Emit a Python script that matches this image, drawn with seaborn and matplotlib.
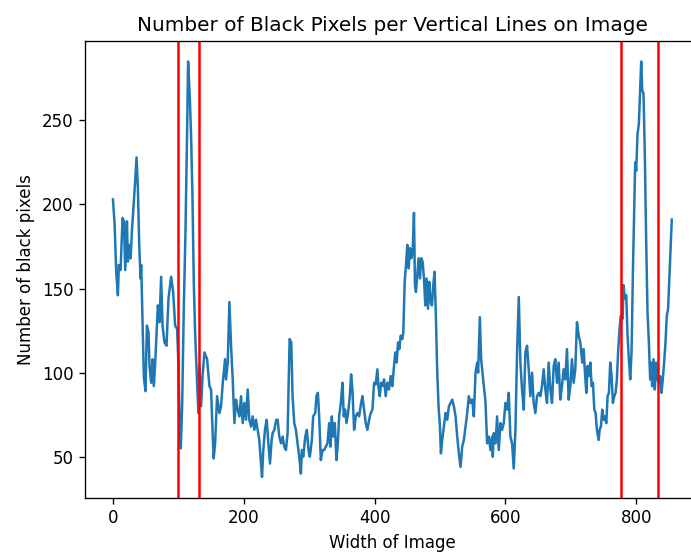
import matplotlib
matplotlib.use("Agg")
import matplotlib.pyplot as plt
import seaborn as sns
import pandas as pd

# column index across the image (x) and count of black pixels in that column (y)
width_pos = [
    0, 2.5, 5, 7.6, 9, 11.7, 14.7, 16.8, 18.8, 21.4, 22.9, 24.9, 27, 29, 33, 36.1, 38.1, 40.2, 42.2, 43.2,
    44.7, 47.3, 49.8, 51.9, 54.4, 55.9, 58.5, 60.5, 62.5, 64.6, 68.7, 71.2, 73.7, 75.8, 78.8, 81.9, 84.9, 89, 92, 95.1,
    98.1, 100.2, 102.2, 103.7, 105.8, 108.3, 110.9, 113.4, 114.9, 117.5, 119.5, 121.5, 123.6, 125.6, 127.1, 129.2, 130.7, 132.2, 134.8, 137,
    139.9, 142, 144, 147.5, 150, 152.6, 154, 156.2, 159.2, 162.8, 165.3, 167.9, 171.4, 172.9, 175.5, 178, 180.6, 183.1, 185.7, 188.2,
    190.7, 193.3, 195.8, 198.4, 200.9, 203.5, 206, 208.5, 211.1, 213.6, 216.2, 218.7, 221.2, 223.8, 226.3, 227.9, 229.9, 232.4, 235, 238,
    240.1, 242.6, 244.1, 246.7, 249.7, 251.8, 254.3, 256.9, 259.4, 261.9, 264.5, 267, 270.1, 272.6, 274.6, 277.2, 279.7, 282.2, 284.8, 287.3,
    288.9, 290.9, 294, 296.5, 299, 301, 304.1, 306.1, 309.2, 311.2, 313.3, 315.3, 317.8, 320.4, 322.9, 325.5, 328, 330.6, 332.6, 334.6,
    336.7, 339.2, 341.7, 343.8, 345.8, 348.4, 350.9, 352.9, 355, 357, 359.5, 362.1, 364.1, 366.1, 368.7, 371.2, 373.8, 376.3, 379.4, 381.4,
    384, 386.5, 389, 391.6, 394.1, 396.7, 399.2, 401.7, 404.3, 405.8, 407.9, 409.9, 411.9, 414.5, 417, 419.5, 422.1, 424.6, 427.1, 429.7,
    431.7, 433.8, 435.8, 437.8, 439.9, 442.4, 443.9, 446, 448, 450, 452.1, 454.1, 456.1, 458.2, 460.2, 461.7, 463.2, 465.3, 467.3, 469.4,
    471.4, 473.4, 475.5, 477.5, 479.5, 481.6, 483.6, 485.6, 487.7, 489.7, 491.7, 493.8, 495.8, 497.8, 499.9, 501.4, 503.4, 506, 508.5, 511,
    513.6, 516.1, 518.7, 521.2, 523.8, 526.3, 528.8, 531.4, 533.9, 536.5, 539, 541.6, 544.1, 546.6, 549.2, 551.7, 554.3, 556.8, 558.3, 560.9,
    562.9, 564.9, 567, 569.5, 572, 574.6, 577.1, 579.7, 580.7, 582.2, 584.8, 587.3, 589.8, 592.4, 594.9, 597.5, 600, 602.6, 605.1, 607.6,
    610.2, 612.7, 615.3, 617.8, 620.4, 622.9, 625.4, 628, 630.5, 633.1, 635.6, 638.1, 640.7, 643.2, 645.8, 648.3, 650.9, 653.4, 655.9, 658.5,
    661, 663.6, 666.1, 668.7, 671.2, 673.8, 676.3, 678.9, 681.4, 683.9, 686.5, 689, 691.6, 694.1, 696.7, 699.2, 701.7, 704.3, 706.8, 709.4,
    712, 714.5, 717.5, 719.6, 721.6, 723.7, 725.7, 727.7, 729.8, 731.8, 733.8, 735.9, 737.9, 739.9, 742.5, 744, 746, 748, 750.1, 752.1,
    754.2, 756.2, 758.2, 760.3, 762.3, 764.3, 766.4, 768.4, 770.4, 772.5, 774.5, 776.5, 779.1, 780.6, 782.6, 784.7, 786.7, 788.7, 790.8, 792.8,
    794.8, 796.9, 798.4, 799.9, 802, 804, 806, 807.6, 809.1, 811.1, 813.2, 815.2, 817.2, 819.3, 821.3, 822.8, 824.3, 826.4, 828.4, 830.4,
    832.5, 834.5, 836.5, 838.6, 840.6, 842.6, 844.7, 846.7, 848.7, 850.8, 852.8, 854.3,
]
black_count = [
    203, 189, 160, 146, 164, 161, 192, 190, 161, 190, 166, 176, 168, 184, 208, 228, 210, 176, 156, 164,
    140, 97, 89, 128, 124, 104, 94, 108, 92, 106, 140, 130, 157, 128, 118, 116, 144, 157, 148, 128,
    126, 104, 64, 55, 80, 138, 184, 244, 285, 264, 240, 206, 154, 124, 109, 89, 76, 104, 80, 98,
    112, 110, 108, 92, 90, 62, 49, 58, 86, 76, 80, 94, 108, 96, 106, 142, 116, 96, 70, 84,
    78, 74, 86, 70, 82, 72, 90, 72, 68, 74, 66, 72, 66, 60, 46, 38, 54, 66, 72, 56,
    46, 60, 64, 66, 72, 72, 62, 58, 62, 56, 54, 64, 120, 118, 86, 70, 66, 58, 50, 40,
    54, 50, 62, 66, 54, 50, 60, 74, 76, 86, 88, 74, 48, 54, 54, 56, 58, 70, 56, 74,
    62, 70, 48, 58, 74, 82, 94, 74, 78, 70, 76, 86, 99, 90, 66, 74, 76, 74, 82, 86,
    78, 70, 66, 72, 76, 78, 94, 93, 102, 92, 86, 94, 92, 96, 86, 94, 90, 98, 92, 104,
    112, 106, 118, 114, 122, 120, 124, 154, 164, 176, 162, 174, 168, 172, 195, 152, 148, 158, 168, 156,
    168, 166, 156, 140, 156, 138, 154, 142, 140, 152, 160, 132, 100, 80, 68, 52, 60, 68, 76, 72,
    80, 82, 84, 80, 74, 62, 52, 44, 56, 60, 68, 76, 86, 82, 84, 74, 100, 106, 100, 133,
    108, 100, 92, 83, 58, 62, 54, 62, 50, 64, 58, 74, 54, 70, 66, 70, 82, 78, 88, 62,
    58, 43, 66, 112, 145, 106, 90, 78, 112, 116, 102, 86, 100, 82, 76, 86, 88, 86, 92, 102,
    90, 82, 106, 90, 82, 104, 108, 94, 106, 84, 92, 102, 96, 114, 84, 92, 108, 94, 102, 130,
    122, 118, 106, 114, 100, 88, 104, 98, 106, 92, 94, 78, 76, 66, 60, 66, 68, 78, 72, 74,
    70, 86, 88, 106, 98, 82, 86, 88, 96, 114, 126, 134, 132, 152, 144, 146, 122, 108, 96, 112,
    158, 198, 225, 220, 242, 248, 268, 285, 268, 266, 228, 178, 136, 118, 96, 106, 92, 108, 90, 106,
    96, 94, 98, 88, 96, 106, 118, 134, 138, 158, 178, 191,
]
# detected split positions
split_lines = [100, 132, 777, 833]

df = pd.DataFrame({"width": width_pos, "black": black_count})

fig = plt.figure(figsize=(691 / 120, 554 / 120), dpi=120)
ax = fig.add_axes([0.123, 0.1016, 0.8896, 0.8249])

sns.lineplot(data=df, x="width", y="black", ax=ax, color="#1f77b4",
             linewidth=1.5, errorbar=None)
for xv in split_lines:
    ax.axvline(xv, color="red", linewidth=1.5)

ax.set_title("Number of Black Pixels per Vertical Lines on Image")
ax.set_xlabel("Width of Image")
ax.set_ylabel("Number of black pixels")

fig.savefig("out.png", dpi=120)
